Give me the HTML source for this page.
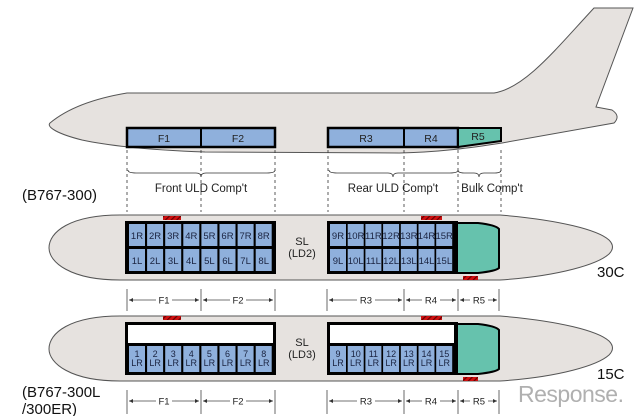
<!DOCTYPE html>
<html><head><meta charset="utf-8"><style>
html,body{margin:0;padding:0;background:#fff;width:640px;height:416px;overflow:hidden}
svg{display:block;font-family:"Liberation Sans",sans-serif}
.c{font-size:9.5px;fill:#1a2340;text-anchor:middle}
.l{font-size:10.5px;fill:#222;text-anchor:middle}
</style></head><body>
<svg width="640" height="416" viewBox="0 0 640 416">
<defs>
<marker id="a" viewBox="0 0 6 6" refX="6" refY="3" markerWidth="5" markerHeight="5" orient="auto"><path d="M0,0 L6,3 L0,6 z" fill="#333"/></marker>
<marker id="b" viewBox="0 0 6 6" refX="0" refY="3" markerWidth="5" markerHeight="5" orient="auto"><path d="M6,0 L0,3 L6,6 z" fill="#333"/></marker>
<pattern id="h" width="4" height="4" patternUnits="userSpaceOnUse" patternTransform="rotate(45)"><rect width="4" height="4" fill="#d01010"/><rect width="1.2" height="4" fill="#600"/></pattern>
</defs>
<!-- top plane -->
<path d="M127 93 L494 93 C525 88 555 50 594 8 L633 8 L596 107 L612 110 Q621 116 614 123 L502 143 C470 148 440 152 400 153 L205 152 C150 150 110 146 82 140 C58 134 46 127 50 123 C62 113 85 100 127 93 Z" fill="#e6e2df" stroke="#555" stroke-width="1"/>
<rect x="127" y="128" width="148" height="19" fill="#8fb0dc" stroke="#000" stroke-width="2.5"/>
<line x1="201" y1="128" x2="201" y2="147" stroke="#000" stroke-width="2"/>
<rect x="328" y="128" width="130" height="19" fill="#8fb0dc" stroke="#000" stroke-width="2.5"/>
<line x1="404" y1="128" x2="404" y2="147" stroke="#000" stroke-width="2"/>
<polygon points="458,128 501,128 501,141 458,147" fill="#66c2ad" stroke="#000" stroke-width="2"/>
<g class="l"><text x="164" y="142">F1</text><text x="238" y="142">F2</text><text x="366" y="142">R3</text><text x="431" y="142">R4</text><text x="478" y="140">R5</text></g>
<g stroke="#333" stroke-width="0.8" stroke-dasharray="3,3">
<line x1="127" y1="150" x2="127" y2="212"/><line x1="201" y1="150" x2="201" y2="212"/><line x1="275" y1="150" x2="275" y2="212"/>
<line x1="328" y1="150" x2="328" y2="212"/><line x1="404" y1="150" x2="404" y2="212"/><line x1="458" y1="150" x2="458" y2="212"/><line x1="501" y1="150" x2="501" y2="212"/>
</g>
<g fill="none" stroke="#333" stroke-width="0.8">
<path d="M128 170 Q128 173 136 173 L196 173 Q201 173 201 177 Q201 173 206 173 L267 173 Q275 173 275 170"/>
<path d="M329 170 Q329 173 337 173 L388 173 Q393 173 393 177 Q393 173 398 173 L450 173 Q458 173 458 170"/>
<path d="M458 170 Q458 173 464 173 L474 173 Q479 173 479 177 Q479 173 484 173 L495 173 Q501 173 501 170"/>
</g>
<g style="font-size:11.5px;fill:#222;text-anchor:middle"><text x="201" y="192">Front ULD Comp't</text><text x="393" y="192">Rear ULD Comp't</text><text x="492" y="192">Bulk Comp't</text></g>
<text x="22" y="200" style="font-size:15px;fill:#111">(B767-300)</text>

<!-- pill 1 -->
<path d="M120 215 L500 215 C560 220 598 230 609 240 Q616 247 609 254 C598 264 560 276 500 280 L120 280 C70 280 49 262 49 248 C49 232 70 215 120 215 Z" fill="#e6e2df" stroke="#555"/>
<rect x="125" y="221" width="151" height="53" fill="#000"/>
<rect x="327" y="221" width="131" height="53" fill="#000"/>
<path d="M457 223 L478 223 Q496 225 499 229 L499 268 Q496 271 478 273 L457 273 Z" fill="#66c2ad" stroke="#000" stroke-width="2"/>
<g fill="#8fb0dc">
<rect x="129" y="224" width="16" height="22"/><rect x="147.1" y="224" width="16" height="22"/><rect x="165.2" y="224" width="16" height="22"/><rect x="183.3" y="224" width="16" height="22"/><rect x="201.4" y="224" width="16" height="22"/><rect x="219.5" y="224" width="16" height="22"/><rect x="237.6" y="224" width="16" height="22"/><rect x="255.7" y="224" width="16" height="22"/>
<rect x="129" y="249" width="16" height="22"/><rect x="147.1" y="249" width="16" height="22"/><rect x="165.2" y="249" width="16" height="22"/><rect x="183.3" y="249" width="16" height="22"/><rect x="201.4" y="249" width="16" height="22"/><rect x="219.5" y="249" width="16" height="22"/><rect x="237.6" y="249" width="16" height="22"/><rect x="255.7" y="249" width="16" height="22"/>
<rect x="330" y="224" width="16" height="22"/><rect x="347.7" y="224" width="16" height="22"/><rect x="365.4" y="224" width="16" height="22"/><rect x="383.1" y="224" width="16" height="22"/><rect x="400.8" y="224" width="16" height="22"/><rect x="418.5" y="224" width="16" height="22"/><rect x="436.2" y="224" width="16" height="22"/>
<rect x="330" y="249" width="16" height="22"/><rect x="347.7" y="249" width="16" height="22"/><rect x="365.4" y="249" width="16" height="22"/><rect x="383.1" y="249" width="16" height="22"/><rect x="400.8" y="249" width="16" height="22"/><rect x="418.5" y="249" width="16" height="22"/><rect x="436.2" y="249" width="16" height="22"/>
</g>
<g class="c">
<text x="137" y="239">1R</text><text x="155.1" y="239">2R</text><text x="173.2" y="239">3R</text><text x="191.3" y="239">4R</text><text x="209.4" y="239">5R</text><text x="227.5" y="239">6R</text><text x="245.6" y="239">7R</text><text x="263.7" y="239">8R</text>
<text x="137" y="264">1L</text><text x="155.1" y="264">2L</text><text x="173.2" y="264">3L</text><text x="191.3" y="264">4L</text><text x="209.4" y="264">5L</text><text x="227.5" y="264">6L</text><text x="245.6" y="264">7L</text><text x="263.7" y="264">8L</text>
<text x="338" y="239">9R</text><text x="355.7" y="239">10R</text><text x="373.4" y="239">11R</text><text x="391.1" y="239">12R</text><text x="408.8" y="239">13R</text><text x="426.5" y="239">14R</text><text x="444.2" y="239">15R</text>
<text x="338" y="264">9L</text><text x="355.7" y="264">10L</text><text x="373.4" y="264">11L</text><text x="391.1" y="264">12L</text><text x="408.8" y="264">13L</text><text x="426.5" y="264">14L</text><text x="444.2" y="264">15L</text>
</g>
<rect x="163" y="216" width="18" height="4" fill="url(#h)"/><rect x="421" y="216" width="21" height="4" fill="url(#h)"/><rect x="463" y="276" width="15" height="4" fill="url(#h)"/>
<g class="l" style="font-size:11px"><text x="302" y="245">SL</text><text x="302" y="257">(LD2)</text></g>
<text x="597" y="277" style="font-size:15px;fill:#111">30C</text>

<!-- dims 1 -->
<g stroke="#444" stroke-width="0.8">
<line x1="127" y1="289" x2="127" y2="311"/><line x1="201" y1="289" x2="201" y2="311"/><line x1="275" y1="289" x2="275" y2="311"/><line x1="327" y1="289" x2="327" y2="311"/><line x1="404" y1="289" x2="404" y2="311"/><line x1="458" y1="289" x2="458" y2="311"/><line x1="499" y1="289" x2="499" y2="311"/>
<line x1="129" y1="300" x2="199" y2="300" marker-start="url(#b)" marker-end="url(#a)"/><line x1="203" y1="300" x2="273" y2="300" marker-start="url(#b)" marker-end="url(#a)"/><line x1="329" y1="300" x2="402" y2="300" marker-start="url(#b)" marker-end="url(#a)"/><line x1="406" y1="300" x2="456" y2="300" marker-start="url(#b)" marker-end="url(#a)"/><line x1="460" y1="300" x2="497" y2="300" marker-start="url(#b)" marker-end="url(#a)"/>
</g>
<g class="l" style="font-size:9.5px"><rect x="156" y="294" width="16" height="11" fill="#fff"/><text x="164" y="303.5">F1</text><rect x="230" y="294" width="16" height="11" fill="#fff"/><text x="238" y="303.5">F2</text><rect x="357" y="294" width="18" height="11" fill="#fff"/><text x="366" y="303.5">R3</text><rect x="422" y="294" width="18" height="11" fill="#fff"/><text x="431" y="303.5">R4</text><rect x="470" y="294" width="18" height="11" fill="#fff"/><text x="479" y="303.5">R5</text></g>

<!-- pill 2 -->
<path d="M120 316 L500 316 C560 321 598 331 609 341 Q616 348 609 355 C598 365 560 377 500 381 L120 381 C70 381 49 363 49 349 C49 333 70 316 120 316 Z" fill="#e6e2df" stroke="#555"/>
<rect x="125" y="322" width="151" height="53" fill="#000"/>
<rect x="327" y="322" width="131" height="53" fill="#000"/>
<rect x="128" y="325" width="145" height="18" fill="#fff"/>
<rect x="330" y="325" width="124" height="18" fill="#fff"/>
<path d="M457 324 L478 324 Q496 326 499 330 L499 369 Q496 372 478 374 L457 374 Z" fill="#66c2ad" stroke="#000" stroke-width="2"/>
<g fill="#8fb0dc">
<rect x="129" y="346" width="16" height="26"/><rect x="147.1" y="346" width="16" height="26"/><rect x="165.2" y="346" width="16" height="26"/><rect x="183.3" y="346" width="16" height="26"/><rect x="201.4" y="346" width="16" height="26"/><rect x="219.5" y="346" width="16" height="26"/><rect x="237.6" y="346" width="16" height="26"/><rect x="255.7" y="346" width="16" height="26"/>
<rect x="330" y="346" width="16" height="26"/><rect x="347.7" y="346" width="16" height="26"/><rect x="365.4" y="346" width="16" height="26"/><rect x="383.1" y="346" width="16" height="26"/><rect x="400.8" y="346" width="16" height="26"/><rect x="418.5" y="346" width="16" height="26"/><rect x="436.2" y="346" width="16" height="26"/>
</g>
<g class="c" style="font-size:9px">
<text x="137" y="357">1</text><text x="155.1" y="357">2</text><text x="173.2" y="357">3</text><text x="191.3" y="357">4</text><text x="209.4" y="357">5</text><text x="227.5" y="357">6</text><text x="245.6" y="357">7</text><text x="263.7" y="357">8</text>
<text x="338" y="357">9</text><text x="355.7" y="357">10</text><text x="373.4" y="357">11</text><text x="391.1" y="357">12</text><text x="408.8" y="357">13</text><text x="426.5" y="357">14</text><text x="444.2" y="357">15</text>
<text x="137" y="366">LR</text><text x="155.1" y="366">LR</text><text x="173.2" y="366">LR</text><text x="191.3" y="366">LR</text><text x="209.4" y="366">LR</text><text x="227.5" y="366">LR</text><text x="245.6" y="366">LR</text><text x="263.7" y="366">LR</text>
<text x="338" y="366">LR</text><text x="355.7" y="366">LR</text><text x="373.4" y="366">LR</text><text x="391.1" y="366">LR</text><text x="408.8" y="366">LR</text><text x="426.5" y="366">LR</text><text x="444.2" y="366">LR</text>
</g>
<rect x="163" y="316" width="18" height="4" fill="url(#h)"/><rect x="421" y="316" width="21" height="4" fill="url(#h)"/><rect x="463" y="377" width="15" height="4" fill="url(#h)"/>
<g class="l" style="font-size:11px"><text x="302" y="346">SL</text><text x="302" y="358">(LD3)</text></g>
<text x="597" y="379" style="font-size:15px;fill:#111">15C</text>

<!-- dims 2 -->
<g stroke="#444" stroke-width="0.8">
<line x1="127" y1="390" x2="127" y2="414"/><line x1="201" y1="390" x2="201" y2="414"/><line x1="275" y1="390" x2="275" y2="414"/><line x1="327" y1="390" x2="327" y2="414"/><line x1="404" y1="390" x2="404" y2="414"/><line x1="458" y1="390" x2="458" y2="414"/><line x1="499" y1="390" x2="499" y2="414"/>
<line x1="129" y1="401" x2="199" y2="401" marker-start="url(#b)" marker-end="url(#a)"/><line x1="203" y1="401" x2="273" y2="401" marker-start="url(#b)" marker-end="url(#a)"/><line x1="329" y1="401" x2="402" y2="401" marker-start="url(#b)" marker-end="url(#a)"/><line x1="406" y1="401" x2="456" y2="401" marker-start="url(#b)" marker-end="url(#a)"/><line x1="460" y1="401" x2="497" y2="401" marker-start="url(#b)" marker-end="url(#a)"/>
</g>
<g class="l" style="font-size:9.5px"><rect x="156" y="395" width="16" height="11" fill="#fff"/><text x="164" y="404.5">F1</text><rect x="230" y="395" width="16" height="11" fill="#fff"/><text x="238" y="404.5">F2</text><rect x="357" y="395" width="18" height="11" fill="#fff"/><text x="366" y="404.5">R3</text><rect x="422" y="395" width="18" height="11" fill="#fff"/><text x="431" y="404.5">R4</text><rect x="470" y="395" width="18" height="11" fill="#fff"/><text x="479" y="404.5">R5</text></g>

<text x="22" y="397" style="font-size:15px;fill:#111">(B767-300L</text>
<text x="22" y="414" style="font-size:15px;fill:#111">/300ER)</text>
<text x="518" y="402" style="font-size:23px;fill:#b0b0b0;letter-spacing:-0.5px">Response.</text>
</svg>
</body></html>
